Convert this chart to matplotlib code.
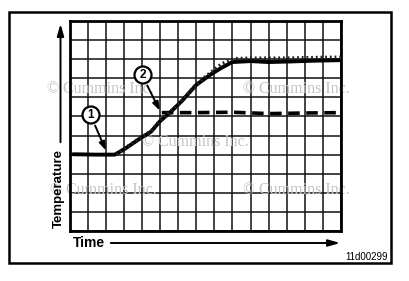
import matplotlib
matplotlib.use("Agg")
import matplotlib.pyplot as plt
from matplotlib.patches import Rectangle, Circle

# ---- data (grid units: 15 columns x 11 rows) ----
solid_x = [0.2, 1.5, 2.5, 3.1, 3.9, 4.5, 5.0, 5.6, 6.2, 7.0, 7.8, 8.4, 9.0, 10.0, 11.0, 12.2, 13.5, 15.0]
solid_y = [4.02, 4.0, 4.0, 4.33, 4.85, 5.2, 5.75, 6.25, 6.8, 7.65, 8.2, 8.55, 8.85, 8.9, 8.85, 8.88, 8.92, 8.95]

dotted_x = [2.6, 3.1, 3.9, 4.5, 5.0, 5.6, 6.2, 7.0, 7.8, 8.4, 9.1, 10.0, 12.0, 13.5, 15.0]
dotted_y = [4.0, 4.35, 4.87, 5.22, 5.77, 6.27, 6.82, 7.68, 8.3, 8.75, 9.02, 9.05, 9.05, 9.08, 9.1]

dashed_x = [5.1, 7.0, 9.0, 11.0, 13.0, 15.0]
dashed_y = [6.2, 6.2, 6.22, 6.15, 6.18, 6.2]

n_cols = 15
n_rows = 11
x_label = "Time"
y_label = "Temperature"
fig_code = "11d00299"
watermark = "\u00a9 Cummins Inc."

W, H = 410, 281
fig = plt.figure(figsize=(W / 100, H / 100), dpi=100)
fig.patch.set_facecolor("white")

sans = ["Liberation Sans", "DejaVu Sans"]

# grid axes
gl, gr, gt, gb = 69.5, 341, 21, 231
ax = fig.add_axes([gl / W, 1 - gb / H, (gr - gl) / W, (gb - gt) / H])
ax.set_xlim(0, n_cols)
ax.set_ylim(0, n_rows)
ax.set_xticks(range(n_cols + 1))
ax.set_yticks(range(n_rows + 1))
ax.tick_params(length=0, labelbottom=False, labelleft=False)
ax.grid(True, color="#111111", linewidth=1.1)
ax.set_axisbelow(True)
for s in ax.spines.values():
    s.set_linewidth(2)
    s.set_color("black")

# overlay axes in pixel coordinates, on top
ov = fig.add_axes([0, 0, 1, 1])
ov.set_xlim(0, W)
ov.set_ylim(H, 0)
ov.axis("off")
ov.patch.set_alpha(0)
ov.set_zorder(5)

# watermarks (drawn in the grid axes, between grid and curves)
wm_pos = [(100, 89), (296, 89), (195, 142), (103, 190), (296, 190)]
for (px, py) in wm_pos:
    ax.text(px, py, watermark, fontsize=11.5, family="Liberation Serif",
            color="#c4c4c4", ha="center", va="center", zorder=1,
            transform=ov.transData, clip_on=False)

ax.plot(solid_x, solid_y, color="black", linewidth=2.8, solid_capstyle="round", zorder=3)
ax.plot(dotted_x, dotted_y, color="#222222", linewidth=2.6, linestyle=(0, (0.5, 0.8)), zorder=4)
ax.plot(dashed_x, dashed_y, color="black", linewidth=2.6, linestyle=(0, (3.2, 1.8)), zorder=3)

# outer frame
ov.add_patch(Rectangle((9, 11.5), 382, 251.5, fill=False, edgecolor="black", linewidth=1.8))

# axis labels with arrows
ov.text(59, 189, y_label, rotation=90, ha="center", va="center", fontsize=9.5,
        fontweight="bold", family=sans)
ov.annotate("", xy=(60.5, 21), xytext=(60.5, 145),
            arrowprops=dict(arrowstyle="-|>,head_length=0.7,head_width=0.2", color="black", lw=1.4))
ov.text(73, 243, x_label, ha="left", va="center", fontsize=10,
        fontweight="bold", family=sans)
ov.annotate("", xy=(343, 243), xytext=(108, 243),
            arrowprops=dict(arrowstyle="-|>,head_length=0.7,head_width=0.2", color="black", lw=1.4))
ov.text(388, 256.5, fig_code, ha="right", va="center", fontsize=7, family=sans)

# callouts
for num, (cx, cy), (tx, ty) in [("1", (91, 115), (107, 153)), ("2", (143, 75), (161, 113))]:
    ov.annotate("", xy=(tx, ty), xytext=(cx + 3, cy + 8),
                arrowprops=dict(arrowstyle="-|>,head_length=0.5,head_width=0.18", color="black", lw=1.4),
                zorder=6)
    ov.add_patch(Circle((cx, cy), 8.5, facecolor="white", edgecolor="black", linewidth=1.6, zorder=7))
    ov.text(cx, cy + 0.5, num, ha="center", va="center", fontsize=8.5, fontweight="bold",
            family=sans, zorder=8)

fig.savefig("out.png", dpi=100)
